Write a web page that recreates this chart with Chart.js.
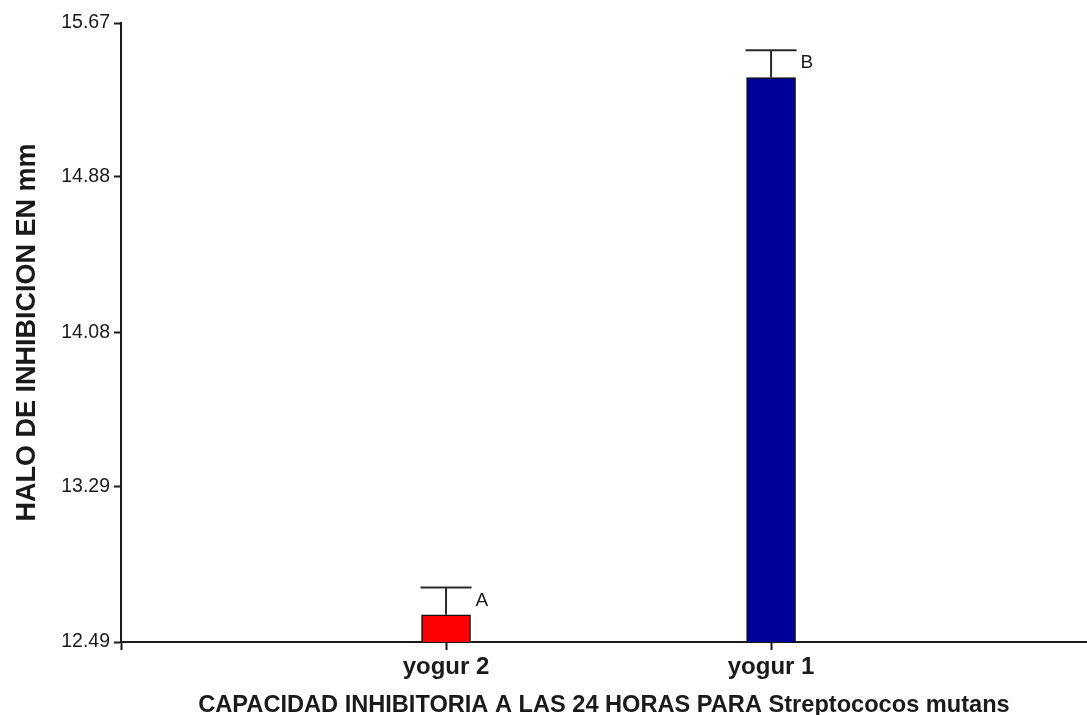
<!DOCTYPE html>
<html>
<head>
<meta charset="utf-8">
<script src="https://cdn.jsdelivr.net/npm/chart.js@4/dist/chart.umd.min.js"></script>
<style>
  html, body { margin: 0; padding: 0; background: #fff; }
  #wrap { width: 1087px; height: 715px; position: relative; }
</style>
</head>
<body>
<div id="wrap"><canvas id="c" width="1087" height="715"></canvas></div>
<script>
// ---- data ----
const categories = ['yogur 2', 'yogur 1'];
const categoryPos = [1, 2];
const means = [12.63, 15.39];
const errUpper = [12.77, 15.53];
const letters = ['A', 'B'];
const barColors = ['#ff0000', '#000099'];
const yTicks = [12.49, 13.29, 14.08, 14.88, 15.67];
const yTitle = 'HALO DE INHIBICION EN mm';
const xTitle = 'CAPACIDAD INHIBITORIA A LAS 24 HORAS PARA Streptococos mutans';

const FONT = "'Liberation Sans', Arial, sans-serif";
const INK = '#1a1a1a';

const errorBarPlugin = {
  id: 'errorBars',
  afterDatasetsDraw(chart) {
    const ctx = chart.ctx;
    const xs = chart.scales.x, ys = chart.scales.y;
    ctx.save();
    ctx.strokeStyle = '#2a2a2a';
    ctx.lineWidth = 2;
    categoryPos.forEach((p, i) => {
      const cx = xs.getPixelForValue(p);
      const yTop = ys.getPixelForValue(errUpper[i]);
      const yBar = ys.getPixelForValue(means[i]);
      ctx.beginPath();
      ctx.moveTo(cx, yBar);
      ctx.lineTo(cx, yTop);
      ctx.moveTo(cx - 25.5, yTop);
      ctx.lineTo(cx + 25.5, yTop);
      ctx.stroke();
      ctx.fillStyle = INK;
      ctx.font = '19px ' + FONT;
      ctx.textAlign = 'left';
      ctx.textBaseline = 'middle';
      ctx.fillText(letters[i], cx + 29.5, yTop + 13);
    });
    ctx.restore();
  }
};

new Chart(document.getElementById('c'), {
  type: 'bar',
  data: {
    datasets: [{
      data: categoryPos.map((p, i) => ({ x: p, y: means[i] })),
      backgroundColor: barColors,
      borderColor: '#111',
      borderWidth: 1.5,
      borderSkipped: false,
      barThickness: 49
    }]
  },
  options: {
    responsive: false,
    animation: false,
    layout: { padding: { top: 23, right: 0, bottom: 0, left: 0 } },
    plugins: { legend: { display: false }, tooltip: { enabled: false } },
    scales: {
      x: {
        type: 'linear',
        min: 0,
        max: 2.972,
        offset: false,
        afterBuildTicks(scale) {
          scale.ticks = [{ value: 0 }].concat(categoryPos.map(v => ({ value: v })));
        },
        afterFit(scale) { scale.height = 73; },
        border: { display: true, color: INK, width: 2 },
        grid: { offset: false, drawOnChartArea: false, drawTicks: true, tickLength: 8, tickColor: INK, tickWidth: 2 },
        ticks: {
          autoSkip: false,
          maxRotation: 0,
          padding: 3,
          color: INK,
          font: { family: FONT, size: 24, weight: 'bold' },
          callback(value) {
            const idx = categoryPos.indexOf(value);
            return idx >= 0 ? categories[idx] : '';
          }
        },
        title: {
          display: true,
          text: xTitle,
          color: INK,
          font: { family: FONT, size: 23.6, weight: 'bold', lineHeight: 0.9 },
          padding: { top: 0, bottom: -1 }
        }
      },
      y: {
        type: 'linear',
        min: yTicks[0],
        max: yTicks[yTicks.length - 1],
        afterBuildTicks(scale) {
          scale.ticks = yTicks.map(v => ({ value: v }));
        },
        afterFit(scale) { scale.width = 121; },
        border: { display: true, color: INK, width: 2 },
        grid: { drawOnChartArea: false, drawTicks: true, tickLength: 7, tickColor: INK, tickWidth: 2 },
        ticks: {
          padding: 4,
          color: INK,
          font: { family: FONT, size: 19.5 },
          callback(value) { return Number(value).toFixed(2); }
        },
        title: {
          display: true,
          text: yTitle,
          color: INK,
          font: { family: FONT, size: 27, weight: 'bold', lineHeight: 1.2 },
          padding: { top: 11, bottom: 0 }
        }
      }
    }
  },
  plugins: [errorBarPlugin]
});
</script>
</body>
</html>
